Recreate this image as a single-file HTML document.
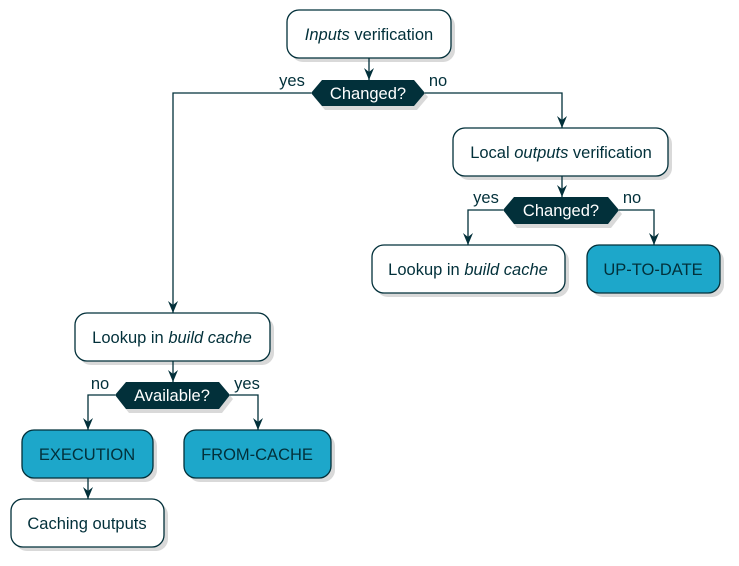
<!DOCTYPE html>
<html><head><meta charset="utf-8"><style>
html,body{margin:0;padding:0;background:#fff;}
svg{display:block;}
text{font-family:"Liberation Sans",sans-serif;font-size:16.5px;fill:#02303A;}
</style></head><body>
<svg width="739" height="566" viewBox="0 0 739 566" xmlns="http://www.w3.org/2000/svg">
<g fill="#d9d9d9">
<rect x="291" y="14" width="164" height="48" rx="12"/>
<rect x="457" y="132" width="215" height="48" rx="12"/>
<rect x="376" y="249" width="193" height="48" rx="12"/>
<rect x="591" y="249" width="133" height="48" rx="12"/>
<rect x="79" y="317" width="195" height="48" rx="12"/>
<rect x="26" y="434" width="131" height="48" rx="12"/>
<rect x="188" y="434" width="147" height="48" rx="12"/>
<rect x="15" y="503" width="153" height="48" rx="12"/>
<polygon points="314,97 325,84 417,84 428,97 417,110 325,110"/>
<polygon points="506,214 517,201 611,201 622,214 611,228 517,228"/>
<polygon points="118,399 129,386 222,386 233,399 222,413 129,413"/>
</g>
<g fill="none" stroke="#02303A" stroke-width="1.3">
<path d="M369,58 V80"/>
<path d="M311,93 H173 V313"/>
<path d="M425,93 H562 V128"/>
<path d="M562,176 V197"/>
<path d="M503,210 H468 V245"/>
<path d="M619,210 H654 V245"/>
<path d="M173,361 V382"/>
<path d="M115,395 H88 V430"/>
<path d="M230,395 H258 V430"/>
<path d="M88,478 V499"/>
</g>
<g fill="#02303A">
<path d="M364,68 L369,80 L374,68 L369,72Z"/>
<path d="M168,301 L173,313 L178,301 L173,305Z"/>
<path d="M557,116 L562,128 L567,116 L562,120Z"/>
<path d="M557,185 L562,197 L567,185 L562,189Z"/>
<path d="M463,233 L468,245 L473,233 L468,237Z"/>
<path d="M649,233 L654,245 L659,233 L654,237Z"/>
<path d="M168,370 L173,382 L178,370 L173,374Z"/>
<path d="M83,418 L88,430 L93,418 L88,422Z"/>
<path d="M253,418 L258,430 L263,418 L258,422Z"/>
<path d="M83,487 L88,499 L93,487 L88,491Z"/>
</g>
<g stroke="#02303A" stroke-width="1.3">
<rect x="287" y="10" width="164" height="48" rx="12" fill="#fff"/>
<rect x="453" y="128" width="215" height="48" rx="12" fill="#fff"/>
<rect x="372" y="245" width="193" height="48" rx="12" fill="#fff"/>
<rect x="587" y="245" width="133" height="48" rx="12" fill="#1DA7CA"/>
<rect x="75" y="313" width="195" height="48" rx="12" fill="#fff"/>
<rect x="22" y="430" width="131" height="48" rx="12" fill="#1DA7CA"/>
<rect x="184" y="430" width="147" height="48" rx="12" fill="#1DA7CA"/>
<rect x="11" y="499" width="153" height="48" rx="12" fill="#fff"/>
</g>
<g fill="#02303A">
<polygon points="311,93 322,80 414,80 425,93 414,106 322,106"/>
<polygon points="503,210 514,197 608,197 619,210 608,224 514,224"/>
<polygon points="115,395 126,382 219,382 230,395 219,409 126,409"/>
</g>
<g text-anchor="middle">
<text x="369" y="40"><tspan font-style="italic">Inputs</tspan> verification</text>
<text x="368" y="99" style="fill:#fff">Changed?</text>
<text x="561" y="158">Local <tspan font-style="italic">outputs</tspan> verification</text>
<text x="561" y="216" style="fill:#fff">Changed?</text>
<text x="468" y="275">Lookup in <tspan font-style="italic">build cache</tspan></text>
<text x="653" y="275">UP-TO-DATE</text>
<text x="172" y="343">Lookup in <tspan font-style="italic">build cache</tspan></text>
<text x="172" y="401" style="fill:#fff">Available?</text>
<text x="87" y="460">EXECUTION</text>
<text x="257" y="460">FROM-CACHE</text>
<text x="87" y="529">Caching outputs</text>
<text x="292" y="86">yes</text>
<text x="438" y="86">no</text>
<text x="486" y="203">yes</text>
<text x="632" y="203">no</text>
<text x="100" y="389">no</text>
<text x="247" y="389">yes</text>
</g>
</svg>
</body></html>
